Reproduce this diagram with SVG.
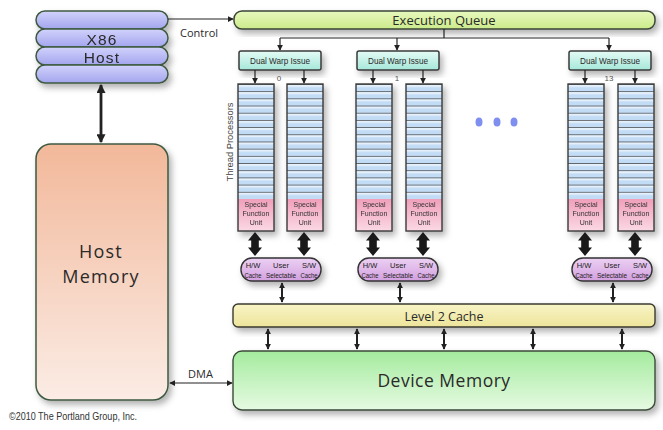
<svg xmlns="http://www.w3.org/2000/svg" width="663" height="430" viewBox="0 0 663 430">
<style>
text{font-family:"Open Sans","Liberation Sans",sans-serif;fill:#2a2a2a}
.big{font-family:"Liberation Sans",sans-serif;font-size:15.5px;letter-spacing:1.2px;text-anchor:middle}
.mid{font-size:13px;text-anchor:middle}
.lbl{font-size:11px}
.sm{font-family:"Liberation Sans",sans-serif;font-size:9px;text-anchor:middle}
.tiny{font-family:"Liberation Sans",sans-serif;font-size:7px;text-anchor:middle;fill:#333}
.pill{font-family:"Liberation Sans",sans-serif;font-size:7.5px;text-anchor:middle;fill:#222}
.ln{stroke:#222;stroke-width:1.2;fill:none}
.thin{stroke:#222;stroke-width:2;fill:none}
.box{stroke:#3e5a40;stroke-width:1.5}
.dk{stroke:#3a3a3a;stroke-width:1.5}
</style>
<defs>
<filter id="sh" x="-20%" y="-20%" width="150%" height="160%">
<feDropShadow dx="3" dy="4" stdDeviation="3" flood-color="#000" flood-opacity="0.3"/>
</filter>
<linearGradient id="gX" x1="0" y1="0" x2="0" y2="1"><stop offset="0" stop-color="#d2d2fb"/><stop offset="1" stop-color="#a3a5ee"/></linearGradient>
<linearGradient id="gHM" x1="0" y1="0" x2="0" y2="1"><stop offset="0" stop-color="#f2b89a"/><stop offset="1" stop-color="#fbece5"/></linearGradient>
<linearGradient id="gEQ" x1="0" y1="0" x2="0" y2="1"><stop offset="0" stop-color="#e8f8bd"/><stop offset="1" stop-color="#cbeb8b"/></linearGradient>
<linearGradient id="gDW" x1="0" y1="0" x2="0" y2="1"><stop offset="0" stop-color="#e4fbf5"/><stop offset="1" stop-color="#a6e7da"/></linearGradient>
<linearGradient id="gL2" x1="0" y1="0" x2="0" y2="1"><stop offset="0" stop-color="#f8f4c6"/><stop offset="1" stop-color="#ede49a"/></linearGradient>
<linearGradient id="gDM" x1="0" y1="0" x2="0" y2="1"><stop offset="0" stop-color="#a4eb9e"/><stop offset="1" stop-color="#e6fae2"/></linearGradient>
<linearGradient id="gSF" x1="0" y1="0" x2="0" y2="1"><stop offset="0" stop-color="#f09fba"/><stop offset="1" stop-color="#fbd9e4"/></linearGradient>
<linearGradient id="gPC" x1="0" y1="0" x2="0" y2="1"><stop offset="0" stop-color="#ecd0f2"/><stop offset="1" stop-color="#d3a0e0"/></linearGradient>
<pattern id="rows" patternUnits="userSpaceOnUse" width="36" height="7.1875">
<rect width="36" height="7.1875" fill="#c3dcf5"/>
<rect y="0.6" width="36" height="2.4" fill="#e4f0fb"/>
<line x1="0" y1="0" x2="36" y2="0" stroke="#3a3a3a" stroke-width="1.2"/>
</pattern>
<g id="tpcol">
<rect x="0" y="0" width="36" height="115" fill="url(#rows)"/>
<rect x="0" y="115" width="36" height="32" fill="url(#gSF)"/>
<rect x="0" y="0" width="36" height="147" fill="none" stroke="#3a3a3a" stroke-width="1.4"/>
<text class="tiny" x="18" y="123">Special</text>
<text class="tiny" x="18" y="132">Function</text>
<text class="tiny" x="18" y="141">Unit</text>
</g>
<marker id="ah" viewBox="0 0 8 8" refX="7" refY="4" markerWidth="6" markerHeight="6" markerUnits="userSpaceOnUse" orient="auto-start-reverse"><path d="M0,0 L8,4 L0,8 z" fill="#222"/></marker>
<marker id="ah2" viewBox="0 0 8 8" refX="7" refY="4" markerWidth="9" markerHeight="9" markerUnits="userSpaceOnUse" orient="auto-start-reverse"><path d="M0,0 L8,4 L0,8 z" fill="#222"/></marker>
</defs>

<rect width="663" height="430" fill="#fff"/>

<g id="x86-host" filter="url(#sh)">
<rect class="box" x="36" y="11" width="132" height="18" rx="9" fill="url(#gX)"/>
<rect class="box" x="36" y="29" width="132" height="18" rx="9" fill="url(#gX)"/>
<rect class="box" x="36" y="47" width="132" height="18" rx="9" fill="url(#gX)"/>
<rect class="box" x="36" y="65" width="132" height="18" rx="9" fill="url(#gX)"/>
<text class="big" x="102" y="44.5">X86</text>
<text class="big" x="102" y="62.5">Host</text>
</g>

<g id="host-memory">
<rect class="box" x="36" y="144" width="132" height="256" rx="15" fill="url(#gHM)" filter="url(#sh)"/>
<text x="101" y="258" style="font-size:18px;letter-spacing:1.2px;text-anchor:middle">Host</text>
<text x="101" y="283" style="font-size:18px;letter-spacing:1.2px;text-anchor:middle">Memory</text>
</g>

<g id="execution-queue">
<rect x="234" y="11" width="421" height="18" rx="8" fill="url(#gEQ)" stroke="#3a4436" stroke-width="1.5" filter="url(#sh)"/>
<text class="mid" x="444" y="25">Execution Queue</text>
</g>

<g id="dwi-0">
<rect class="dk" x="239" y="51" width="82" height="19" rx="2" fill="url(#gDW)" filter="url(#sh)"/>
<text class="sm" x="280" y="64" textLength="60" lengthAdjust="spacingAndGlyphs">Dual Warp Issue</text>
</g>
<g id="dwi-1">
<rect class="dk" x="357" y="51" width="82" height="19" rx="2" fill="url(#gDW)" filter="url(#sh)"/>
<text class="sm" x="398" y="64" textLength="60" lengthAdjust="spacingAndGlyphs">Dual Warp Issue</text>
</g>
<g id="dwi-13">
<rect class="dk" x="569" y="51" width="82" height="19" rx="2" fill="url(#gDW)" filter="url(#sh)"/>
<text class="sm" x="610" y="64" textLength="60" lengthAdjust="spacingAndGlyphs">Dual Warp Issue</text>
</g>

<g id="sm-labels">
<text x="279" y="81" style="font-family:'Liberation Sans',sans-serif;font-size:8px;fill:#555;text-anchor:middle">0</text>
<text x="397" y="81" style="font-family:'Liberation Sans',sans-serif;font-size:8px;fill:#555;text-anchor:middle">1</text>
<text x="609" y="81" style="font-family:'Liberation Sans',sans-serif;font-size:8px;fill:#555;text-anchor:middle">13</text>
<text transform="translate(233,142) rotate(-90)" style="font-family:'Liberation Sans',sans-serif;font-size:9px;fill:#444;text-anchor:middle" textLength="79" lengthAdjust="spacingAndGlyphs">Thread Processors</text>
</g>

<g id="tp-0a" filter="url(#sh)"><use href="#tpcol" x="238" y="84"/></g>
<g id="tp-0b" filter="url(#sh)"><use href="#tpcol" x="287" y="84"/></g>
<g id="tp-1a" filter="url(#sh)"><use href="#tpcol" x="356" y="84"/></g>
<g id="tp-1b" filter="url(#sh)"><use href="#tpcol" x="406" y="84"/></g>
<g id="tp-13a" filter="url(#sh)"><use href="#tpcol" x="568" y="84"/></g>
<g id="tp-13b" filter="url(#sh)"><use href="#tpcol" x="618" y="84"/></g>

<g id="ellipsis" fill="#7f8ff0">
<ellipse cx="479" cy="122" rx="3.5" ry="4.5"/>
<ellipse cx="497" cy="122" rx="3.5" ry="4.5"/>
<ellipse cx="514" cy="122" rx="3.5" ry="4.5"/>
</g>

<g id="cache-0">
<rect x="241" y="258" width="80" height="23" rx="11" fill="url(#gPC)" stroke="#333" stroke-width="1.4" filter="url(#sh)"/>
<text class="pill" x="253" y="267.5">H/W</text>
<text class="pill" x="253" y="277.5" textLength="17" lengthAdjust="spacingAndGlyphs">Cache</text>
<text class="pill" x="281" y="267.5">User</text>
<text class="pill" x="281" y="277.5" textLength="30" lengthAdjust="spacingAndGlyphs">Selectable</text>
<text class="pill" x="309" y="267.5">S/W</text>
<text class="pill" x="309" y="277.5" textLength="17" lengthAdjust="spacingAndGlyphs">Cache</text>
</g>
<g id="cache-1">
<rect x="358" y="258" width="80" height="23" rx="11" fill="url(#gPC)" stroke="#333" stroke-width="1.4" filter="url(#sh)"/>
<text class="pill" x="370" y="267.5">H/W</text>
<text class="pill" x="370" y="277.5" textLength="17" lengthAdjust="spacingAndGlyphs">Cache</text>
<text class="pill" x="398" y="267.5">User</text>
<text class="pill" x="398" y="277.5" textLength="30" lengthAdjust="spacingAndGlyphs">Selectable</text>
<text class="pill" x="426" y="267.5">S/W</text>
<text class="pill" x="426" y="277.5" textLength="17" lengthAdjust="spacingAndGlyphs">Cache</text>
</g>
<g id="cache-13">
<rect x="572" y="258" width="80" height="23" rx="11" fill="url(#gPC)" stroke="#333" stroke-width="1.4" filter="url(#sh)"/>
<text class="pill" x="584" y="267.5">H/W</text>
<text class="pill" x="584" y="277.5" textLength="17" lengthAdjust="spacingAndGlyphs">Cache</text>
<text class="pill" x="612" y="267.5">User</text>
<text class="pill" x="612" y="277.5" textLength="30" lengthAdjust="spacingAndGlyphs">Selectable</text>
<text class="pill" x="640" y="267.5">S/W</text>
<text class="pill" x="640" y="277.5" textLength="17" lengthAdjust="spacingAndGlyphs">Cache</text>
</g>

<g id="level2-cache">
<rect x="233" y="304" width="422" height="23" rx="5" fill="url(#gL2)" stroke="#3a3a30" stroke-width="1.4" filter="url(#sh)"/>
<text x="444" y="321" style="font-size:12.5px;text-anchor:middle">Level 2 Cache</text>
</g>

<g id="device-memory">
<rect x="233" y="351" width="422" height="59" rx="9" fill="url(#gDM)" stroke="#3a4a38" stroke-width="1.4" filter="url(#sh)"/>
<text x="444" y="387" style="font-size:17.5px;text-anchor:middle;letter-spacing:0.5px">Device Memory</text>
</g>

<g id="copyright">
<text x="9" y="420" style="font-family:'Liberation Sans',sans-serif;font-size:10px;fill:#333" textLength="128" lengthAdjust="spacingAndGlyphs">©2010 The Portland Group, Inc.</text>
</g>

<g id="connectors">
<line class="ln" x1="168" y1="19" x2="233" y2="19" marker-end="url(#ah)"/>
<text class="lbl" x="180" y="37">Control</text>
<line x1="101" y1="85" x2="101" y2="142" stroke="#222" stroke-width="2.8" marker-start="url(#ah2)" marker-end="url(#ah2)"/>
<line class="ln" x1="170" y1="383" x2="232" y2="383" marker-start="url(#ah)" marker-end="url(#ah)"/>
<text class="lbl" x="188" y="378">DMA</text>

<path class="ln" d="M444,29 V38 M280,38 H609"/>
<line class="ln" x1="280" y1="38" x2="280" y2="50" marker-end="url(#ah)"/>
<line class="ln" x1="397" y1="38" x2="397" y2="50" marker-end="url(#ah)"/>
<line class="ln" x1="609" y1="38" x2="609" y2="50" marker-end="url(#ah)"/>

<line class="ln" x1="255" y1="70" x2="255" y2="83" marker-end="url(#ah)"/>
<line class="ln" x1="304" y1="70" x2="304" y2="83" marker-end="url(#ah)"/>
<line class="ln" x1="373" y1="70" x2="373" y2="83" marker-end="url(#ah)"/>
<line class="ln" x1="423" y1="70" x2="423" y2="83" marker-end="url(#ah)"/>
<line class="ln" x1="585" y1="70" x2="585" y2="83" marker-end="url(#ah)"/>
<line class="ln" x1="635" y1="70" x2="635" y2="83" marker-end="url(#ah)"/>

<g fill="#1a1a1a">
<path d="M255,232 l7,8.5 h-3.2 v7 h3.2 l-7,8.5 l-7,-8.5 h3.2 v-7 h-3.2 z"/>
<path d="M304,232 l7,8.5 h-3.2 v7 h3.2 l-7,8.5 l-7,-8.5 h3.2 v-7 h-3.2 z"/>
<path d="M373,232 l7,8.5 h-3.2 v7 h3.2 l-7,8.5 l-7,-8.5 h3.2 v-7 h-3.2 z"/>
<path d="M423,232 l7,8.5 h-3.2 v7 h3.2 l-7,8.5 l-7,-8.5 h3.2 v-7 h-3.2 z"/>
<path d="M585,232 l7,8.5 h-3.2 v7 h3.2 l-7,8.5 l-7,-8.5 h3.2 v-7 h-3.2 z"/>
<path d="M635,232 l7,8.5 h-3.2 v7 h3.2 l-7,8.5 l-7,-8.5 h3.2 v-7 h-3.2 z"/>
</g>

<line class="thin" x1="282" y1="283" x2="282" y2="302" marker-start="url(#ah)" marker-end="url(#ah)"/>
<line class="thin" x1="400" y1="283" x2="400" y2="302" marker-start="url(#ah)" marker-end="url(#ah)"/>
<line class="thin" x1="613" y1="283" x2="613" y2="302" marker-start="url(#ah)" marker-end="url(#ah)"/>

<line class="thin" x1="268" y1="329" x2="268" y2="349" marker-start="url(#ah)" marker-end="url(#ah)"/>
<line class="thin" x1="357" y1="329" x2="357" y2="349" marker-start="url(#ah)" marker-end="url(#ah)"/>
<line class="thin" x1="444" y1="329" x2="444" y2="349" marker-start="url(#ah)" marker-end="url(#ah)"/>
<line class="thin" x1="533" y1="329" x2="533" y2="349" marker-start="url(#ah)" marker-end="url(#ah)"/>
<line class="thin" x1="622" y1="329" x2="622" y2="349" marker-start="url(#ah)" marker-end="url(#ah)"/>
</g>
</svg>
